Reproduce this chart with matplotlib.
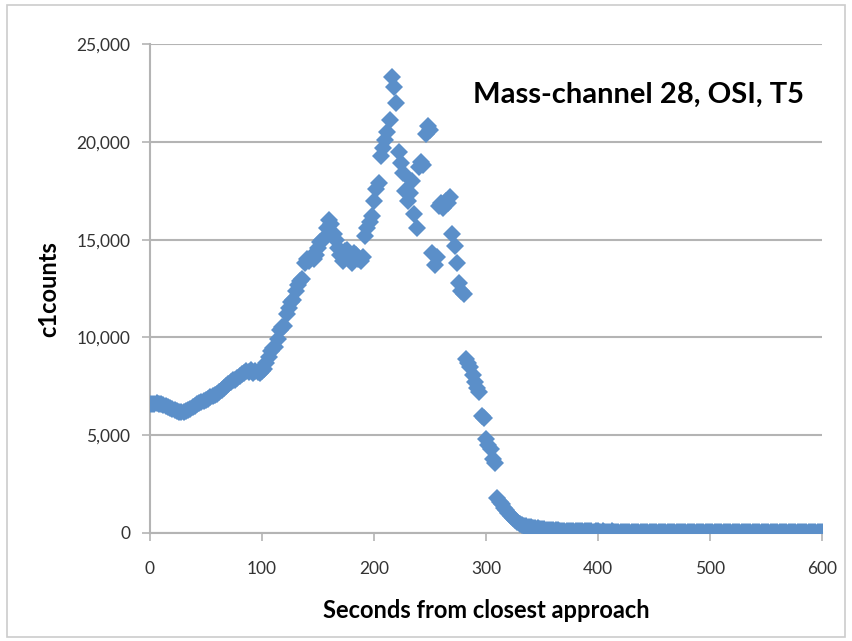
import numpy as np
import matplotlib
matplotlib.use("Agg")
import matplotlib.pyplot as plt
from matplotlib.patches import Rectangle
from matplotlib.ticker import FuncFormatter

plt.rcParams['font.family'] = ['Lato', 'DejaVu Sans']

# seconds from closest approach, one sample every 2 s
seconds = np.arange(0, 602, 2)

# c1 counts for mass channel 28
counts = [
    6600, 6620, 6580, 6650, 6600, 6620, 6560, 6500, 6450, 6400,
    6350, 6300, 6250, 6200, 6180, 6200, 6230, 6280, 6350, 6420,
    6500, 6580, 6650, 6700, 6750, 6800, 6850, 6950, 7000, 7050,
    7100, 7200, 7300, 7400, 7500, 7600, 7700, 7800, 7850, 7950,
    8050, 8150, 8200, 8300, 8250, 8350, 8200, 8300, 8250, 8200,
    8300, 8400, 8700, 9000, 9300, 9450, 9500, 9900, 10400, 10550,
    10600, 11200, 11500, 11800, 11900, 12400, 12700, 12900, 13000, 13800,
    14000, 13900, 14100, 14000, 14200, 14600, 14900, 15000, 15100, 15600,
    16000, 15800, 15300, 15000, 14600, 14200, 13900, 14400, 14500, 14100,
    13800, 14300, 14200, 14000, 13900, 14100, 15200, 15600, 15900, 16200,
    17000, 17600, 17900, 19300, 19700, 20100, 20500, 21100, 23300, 22800,
    22000, 19500, 18900, 18400, 17500, 17000, 17400, 18000, 16300, 15600,
    18700, 19000, 18800, 20400, 20800, 20600, 14300, 13700, 14100, 16700,
    16900, 16600, 17000, 16900, 17200, 15300, 14700, 13800, 12800, 12400,
    12200, 8900, 8700, 8500, 8100, 7700, 7400, 7200, 6000, 5900,
    4800, 4500, 4300, 3800, 3600, 1800, 1600, 1500, 1300, 1200,
    1000, 850, 750, 650, 550, 450, 400, 380, 350, 300,
    300, 280, 250, 250, 220, 200, 180, 170, 160, 150,
    150, 140, 130, 120, 120, 110, 110, 100, 100, 100,
    90, 100, 90, 80, 90, 80, 80, 90, 70, 80,
    80, 70, 80, 70, 60, 70, 80, 60, 70, 60,
    70, 60, 70, 60, 60, 70, 50, 60, 70, 60,
    60, 50, 60, 70, 50, 60, 60, 50, 60, 70,
    50, 60, 60, 50, 70, 60, 50, 60, 60, 50,
    60, 50, 60, 60, 70, 50, 60, 50, 60, 60,
    50, 60, 70, 50, 60, 50, 60, 60, 50, 60,
    60, 50, 60, 50, 70, 60, 50, 60, 50, 60,
    60, 50, 60, 60, 50, 60, 50, 70, 60, 50,
    60, 50, 60, 50, 60, 60, 50, 60, 50, 60,
    50, 60, 60, 50, 60, 50, 60, 60, 50, 60,
    60,
]

x_ticks = [0, 100, 200, 300, 400, 500, 600]
y_ticks = [0, 5000, 10000, 15000, 20000, 25000]

fig = plt.figure(figsize=(8.52, 6.41), dpi=100)

# light frame round the chart area
fig.patches.append(Rectangle((7 / 852, 4 / 641), 838 / 852, 632 / 641,
                             transform=fig.transFigure, fill=False,
                             edgecolor="#cccccc", linewidth=1.2))

ax = fig.add_axes([0.176, 0.1685, 0.789, 0.7625])

ax.plot(seconds, counts, linestyle="none", marker="D", markersize=9.5,
        color="#5b8fc9", markeredgewidth=0, zorder=3)

ax.set_xlim(0, 600)
ax.set_ylim(0, 25000)
ax.set_xticks(x_ticks)
ax.set_yticks(y_ticks)
ax.yaxis.set_major_formatter(FuncFormatter(lambda v, p: f"{int(v):,}"))

ax.grid(axis="y", color="#b4b4b4", linewidth=1.5, zorder=0)
ax.set_axisbelow(True)
for side in ["top", "right"]:
    ax.spines[side].set_visible(False)
for side in ["left", "bottom"]:
    ax.spines[side].set_color("#b4b4b4")
    ax.spines[side].set_linewidth(1.5)

ax.tick_params(axis="both", direction="out", length=6, width=1.2,
               color="#b4b4b4", labelsize=12.5, labelcolor="#333333")
ax.tick_params(axis="y", pad=8)
ax.tick_params(axis="x", pad=14)

ax.set_xlabel("Seconds from closest approach", fontsize=17, fontweight="bold",
              labelpad=16)
ax.set_ylabel("c1counts", fontsize=17, fontweight="bold", labelpad=12)

ax.text(0.48, 0.896, "Mass-channel 28, OSI, T5", transform=ax.transAxes,
        fontsize=21, fontweight="bold", va="center", ha="left")

fig.savefig("out.png", dpi=100)
